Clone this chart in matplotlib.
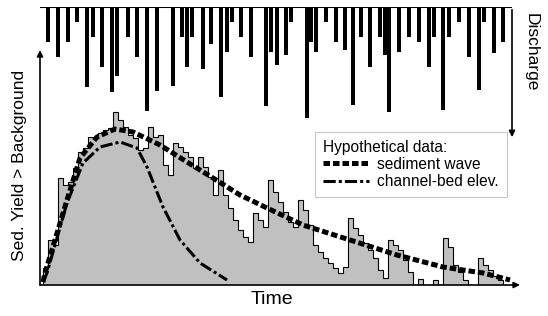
import matplotlib.pyplot as plt
import numpy as np

plt.rcParams['font.family'] = ['Liberation Sans', 'DejaVu Sans']

# sediment yield histogram (arbitrary units), bins of equal width
bin_start = 3
bin_width = 5
sed_yield = [17, 45, 40, 107, 100, 103, 117, 133, 137, 148,
             147, 152, 155, 157, 173, 165, 158, 150, 147, 135,
             137, 158, 148, 150, 120, 110, 142, 138, 133, 128,
             117, 128, 118, 108, 90, 115, 90, 77, 65, 55,
             48, 43, 72, 65, 58, 105, 93, 83, 73, 63,
             58, 85, 75, 60, 40, 33, 27, 22, 17, 12,
             18, 67, 57, 50, 42, 35, 27, 15, 7, 45,
             40, 35, 25, 13, 0, 6, 0, 0, 5, 0,
             47, 38, 20, 13, 5, 0, 0, 27, 20, 15,
             9, 5]

# hypothetical curves
wave_t = [3, 5, 27, 40, 57, 75, 93, 120, 147, 173, 200, 227, 263, 310, 357, 403, 443, 470]
wave_y = [3, 12, 85, 127, 148, 156, 153, 140, 123, 107, 90, 77, 60, 45, 30, 18, 12, 5]
bed_t = [3, 7, 17, 27, 43, 60, 80, 97, 107, 123, 140, 160, 187]
bed_y = [3, 12, 47, 82, 122, 138, 143, 137, 118, 78, 45, 22, 5]

# discharge events (hanging bars)
q_time = [8, 18, 28, 37, 47, 53, 62, 72, 77, 88, 97, 107, 117, 133, 142, 147, 152,
          163, 171, 181, 187, 192, 201, 211, 226, 231, 237, 246, 251, 267, 271, 276,
          286, 296, 305, 313, 321, 330, 340, 345, 349, 359, 369, 379, 389, 394, 403,
          409, 419, 429, 439, 444, 454, 463]
q_size = [35, 50, 35, 15, 80, 30, 60, 85, 69, 30, 50, 104, 84, 79, 30, 60, 30,
          62, 37, 90, 45, 15, 30, 50, 99, 45, 58, 48, 15, 111, 35, 45,
          15, 35, 43, 98, 30, 60, 30, 48, 105, 45, 30, 35, 60, 30, 103,
          30, 15, 50, 83, 15, 46, 35]

W, H = 548, 316
fig = plt.figure(figsize=(W / 100, H / 100), dpi=100)


def px_axes(x0, y0, x1, y1):
    return fig.add_axes([x0 / W, 1 - y1 / H, (x1 - x0) / W, (y1 - y0) / H])


ax = px_axes(40, 50, 520, 285)
ax.set_xlim(0, 480)
ax.set_ylim(0, 235)
ax.axis('off')

edges = bin_start + bin_width * np.arange(len(sed_yield) + 1)
ax.stairs(sed_yield, edges, fill=True, color='#c0c0c0', zorder=1)
ax.stairs(sed_yield, edges, color='black', lw=0.8, zorder=2)

wave, = ax.plot(wave_t, wave_y, color='black', lw=3.6, zorder=4,
                label='sediment wave')
wave.set_dashes((1.3, 0.6))
bed, = ax.plot(bed_t, bed_y, color='black', lw=2.2, zorder=3,
               label='channel-bed elev.')
bed.set_dashes((4, 1, 1, 1))

arrow = dict(arrowstyle='-|>', lw=1.2, color='black', mutation_scale=9,
             shrinkA=0, shrinkB=0)
ax.annotate('', xy=(0, 1), xytext=(0, 0), xycoords='axes fraction', arrowprops=arrow)
ax.annotate('', xy=(1, 0), xytext=(0, 0), xycoords='axes fraction', arrowprops=arrow)

leg = ax.legend(title='Hypothetical data:', loc='upper left',
                bbox_to_anchor=(0.573, 0.652), borderaxespad=0,
                fontsize=11.2, title_fontsize=11.2,
                handlelength=3.0, handletextpad=0.5, borderpad=0.5,
                labelspacing=0.15, fancybox=False, framealpha=1,
                edgecolor='#c8c8c8')
leg._legend_box.align = 'left'
leg.get_frame().set_linewidth(0.8)

dq = px_axes(40, 7, 512, 125)
dq.set_xlim(0, 472)
dq.set_ylim(118, 0)
dq.axis('off')
dq.bar(q_time, q_size, width=4, color='black')
dq.axhline(0, color='black', lw=1.5)

fig.add_artist(plt.matplotlib.patches.FancyArrowPatch(
    (512, H - 7), (512, H - 140), transform=None, arrowstyle='-|>',
    mutation_scale=9, lw=1.2, color='black'))

fig.text(20 / W, 1 - 165 / H, 'Sed. Yield > Background', rotation=90,
         ha='center', va='center', fontsize=12.5)
fig.text(531 / W, 1 - 52 / H, 'Discharge', rotation=-90,
         ha='center', va='center', fontsize=12.5)
fig.text(272 / W, 1 - 300 / H, 'Time', ha='center', va='center', fontsize=14)

fig.savefig('out.png', dpi=100)
